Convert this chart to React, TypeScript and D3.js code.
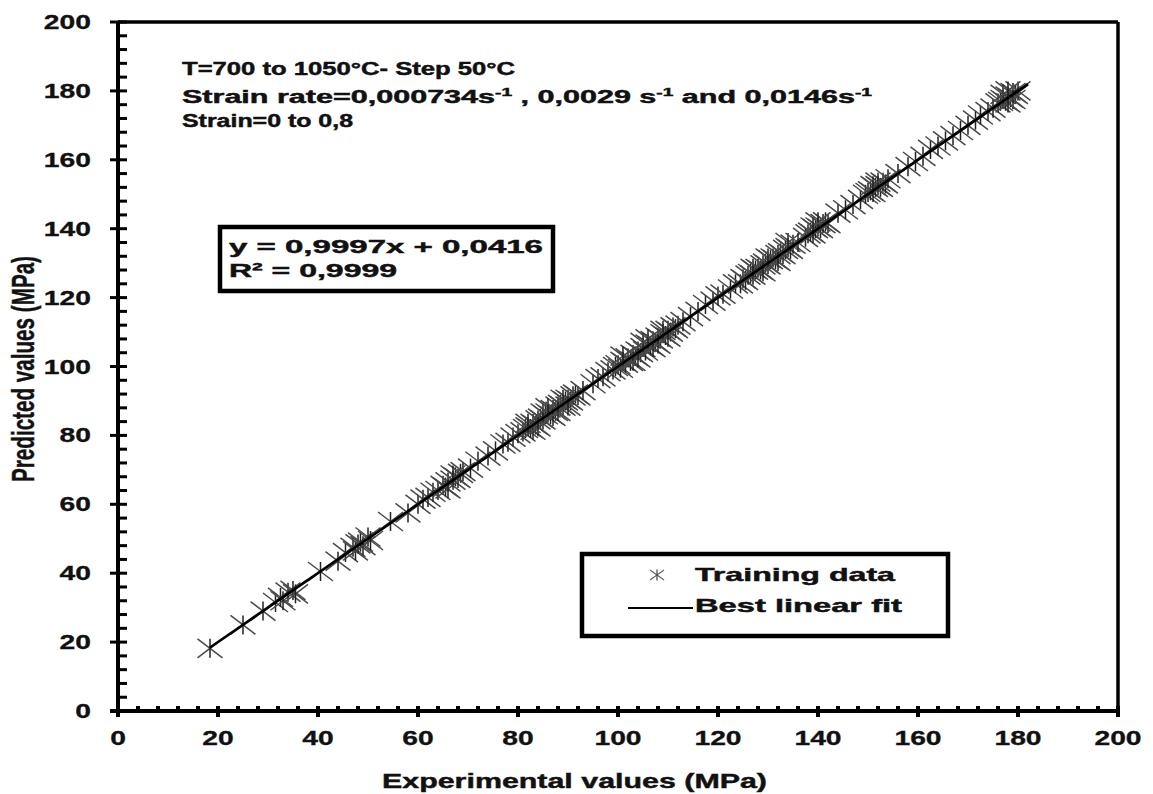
import React from "react";
import * as d3 from "d3";

// Training data: [experimental, predicted] (MPa)
const trainingData: [number, number][] = [
  [18.4, 18.2], [25, 25], [29, 29], [31.5, 31.5], [32.5, 33], [33, 32], [34, 34.5], [35, 35], [35.5, 34],
  [40.5, 40.5], [44, 43.5], [45.5, 46], [47, 47.5], [47.5, 46.5], [48, 48.5], [48.5, 49], [49, 48], [50, 50.5], [50.5, 49.5],
  [54.5, 55], [58, 57.5], [60, 60], [61, 61.5], [62, 62], [63, 63.5], [64, 64], [65, 65.5], [65.5, 65], [66, 66.5],
  [67, 67], [67.5, 68], [68, 67.5], [68.5, 69], [69, 69.5], [66, 64.5], [67, 68.5],
  [70.5, 70.5], [72, 72.5], [74, 74], [75.5, 75.5], [77, 77.5], [78, 78], [79, 79.5],
  [80, 80.5], [81, 81], [81.5, 82], [82, 82.5], [82.5, 82], [83, 83.5], [83.5, 83], [84, 84.5], [84.5, 85], [85, 84.5],
  [85.5, 86], [86, 86.5], [86.5, 86], [87, 87.5], [87.5, 87], [88, 88.5], [88.5, 89], [89, 88.5], [89.5, 90], [90, 90.5],
  [90.5, 90], [91, 91.5], [91.5, 92], [92, 91.5], [93, 93], [83, 81.5], [85, 86.5], [87, 85.5], [89, 90.5], [84, 82.5], [86, 88],
  [82, 83.5], [88, 87], [90, 88.5],
  [95, 95], [96, 96.5], [97, 97], [98, 98.5], [99, 99], [99.5, 100],
  [100, 100.5], [100.5, 99.5], [101, 101.5], [101.5, 101], [102, 102.5], [102.5, 101.5], [103, 103.5], [103.5, 103],
  [104, 104.5], [104.5, 104], [105, 105.5], [105.5, 104.5], [106, 106.5], [106.5, 106], [107, 107.5], [107.5, 107],
  [108, 108.5], [108.5, 108], [109, 109.5], [109.5, 109], [110, 110.5], [110.5, 110], [111, 111.5], [111.5, 111], [112, 112],
  [103, 101.5], [105, 107], [107, 105.5], [109, 110.5], [104, 102.5], [106, 108], [101, 103], [108, 106.5], [110, 108.5],
  [113, 113], [114.5, 114.5], [116, 116], [117.5, 118], [119, 119], [120, 120.5], [121, 121], [122.5, 122.5], [123.5, 124], [124.5, 124],
  [125, 125.5], [125.5, 125], [126, 126.5], [126.5, 127], [127, 126.5], [127.5, 128], [128, 128.5], [128.5, 128], [129, 129.5],
  [129.5, 130], [130, 129.5], [130.5, 131], [131, 131.5], [131.5, 131], [132, 132.5], [132.5, 133], [133, 132.5], [133.5, 134],
  [134, 134.5], [134.5, 134], [135, 135.5], [127, 128.5], [130, 131.5], [132, 130.5], [129, 127.5], [134, 136],
  [136, 136], [137.5, 137.5],
  [138, 138.5], [138.5, 139], [139, 138.5], [139.5, 140], [140, 140.5], [140.5, 140], [141, 141.5], [141.5, 142], [142, 141.5], [140, 142], [139, 140.5],
  [144, 144.5], [145.5, 145.5], [147, 147], [148.5, 148.5], [149.5, 150],
  [150, 150.5], [150.5, 151], [151, 150.5], [151.5, 152], [152, 152.5], [152.5, 152], [153, 153.5], [153.5, 153], [154, 154.5], [152, 153.5], [151, 152.5],
  [156, 156], [158, 158], [159.5, 159.5], [161, 161], [162.5, 163], [164, 164], [165.5, 165.5], [167, 167], [168.5, 168.5],
  [170, 170], [171.5, 171.5], [172.5, 173], [174, 174],
  [175, 175], [176, 176.5], [176.5, 177], [177, 177.5], [177.5, 177], [178, 178.5], [178.5, 178], [179, 179.5], [179.5, 179],
  [180, 180], [177, 179], [178, 180], [179, 177.5], [178, 176.5],
];

const fitSlope = 0.9997;
const fitIntercept = 0.0416;
const fitRange = [18.4, 182];

const majorTicks = [0, 20, 40, 60, 80, 100, 120, 140, 160, 180, 200];
const minorTicks = d3.range(0, 201, 4).filter((v) => v % 20 !== 0);

const FONT = "'Liberation Sans', Arial, sans-serif";
const SX = 1.45;
const TXT_STROKE = 0.45;

const x = d3.scaleLinear().domain([0, 200]).range([118, 1118]);
const y = d3.scaleLinear().domain([0, 200]).range([711, 22]);

function Star({ cx, cy, dx, dy, vy, sw, c1, c2 }: { cx: number; cy: number; dx: number; dy: number; vy: number; sw: number; c1: string; c2: string }) {
  return (
    <g>
      <line x1={cx - dx} y1={cy - dy} x2={cx + dx} y2={cy + dy} stroke={c1} strokeWidth={sw} />
      <line x1={cx - dx} y1={cy + dy} x2={cx + dx} y2={cy - dy} stroke={c1} strokeWidth={sw} />
      <line x1={cx} y1={cy - vy} x2={cx} y2={cy + vy} stroke={c2} strokeWidth={sw} />
    </g>
  );
}

export default function App() {
  const line = d3
    .line<number>()
    .x((d) => x(d))
    .y((d) => y(fitSlope * d + fitIntercept));

  const sup = (s: string) => (
    <tspan fontSize={11} dy={-7}>{s}</tspan>
  );

  return (
    <svg width={1153} height={794} style={{ position: "absolute", left: 0, top: 0, background: "#fff" }}>
      <rect x={0} y={0} width={1153} height={794} fill="#fff" />
      {/* markers */}
      {trainingData.map((d, i) => (
        <Star key={i} cx={x(d[0])} cy={y(d[1])} dx={12.5} dy={9.5} vy={9.5} sw={1.5} c1="#4a4a4a" c2="#222" />
      ))}
      {/* fit line */}
      <path d={line(fitRange) || ""} stroke="#000" strokeWidth={2.6} fill="none" />

      {/* frame */}
      <line x1={x(0)} y1={y(200)} x2={x(200)} y2={y(200)} stroke="#000" strokeWidth={3.5} />
      <line x1={x(200)} y1={y(200)} x2={x(200)} y2={y(0) + 6} stroke="#000" strokeWidth={3.5} />
      <line x1={x(0) - 8} y1={y(0)} x2={x(200)} y2={y(0)} stroke="#000" strokeWidth={4} />
      <line x1={x(0)} y1={y(200)} x2={x(0)} y2={y(0) + 6} stroke="#000" strokeWidth={4} />

      {/* y ticks */}
      {majorTicks.map((t) => (
        <line key={"ym" + t} x1={x(0) - 8} x2={x(0) + 9} y1={y(t)} y2={y(t)} stroke="#000" strokeWidth={3} />
      ))}
      {minorTicks.map((t) => (
        <line key={"yn" + t} x1={x(0)} x2={x(0) + 9} y1={y(t)} y2={y(t)} stroke="#000" strokeWidth={3} />
      ))}
      {/* x ticks */}
      {majorTicks.map((t) => (
        <line key={"xm" + t} x1={x(t)} x2={x(t)} y1={y(0) - 5} y2={y(0) + 6} stroke="#000" strokeWidth={4} />
      ))}
      {minorTicks.map((t) => (
        <line key={"xn" + t} x1={x(t)} x2={x(t)} y1={y(0) - 5} y2={y(0)} stroke="#000" strokeWidth={4} />
      ))}

      {/* tick labels */}
      <g fontFamily={FONT} fontWeight="bold" fontSize={19.5} fill="#111" stroke="#111" strokeWidth={0.3}>
        {majorTicks.map((t) => (
          <text key={"yl" + t} transform={`translate(91,${y(t) + 7}) scale(${SX},1)`} textAnchor="end">{t}</text>
        ))}
        {majorTicks.map((t) => (
          <text key={"xl" + t} transform={`translate(${x(t)},745) scale(${SX},1)`} textAnchor="middle">{t}</text>
        ))}
      </g>

      {/* axis titles */}
      <text x={382} y={788} textLength={385} lengthAdjust="spacingAndGlyphs" fontFamily={FONT} fontWeight="bold" fontSize={21}
        fill="#111" stroke="#111" strokeWidth={TXT_STROKE}>
        Experimental values (MPa)
      </text>
      <text transform={`translate(34,369) scale(${SX},1) rotate(-90)`} textAnchor="middle" fontFamily={FONT} fontWeight="bold"
        fontSize={21} textLength={226} lengthAdjust="spacingAndGlyphs" fill="#111" stroke="#111" strokeWidth={0.3}>
        Predicted values (MPa)
      </text>

      {/* annotation */}
      <g fontFamily={FONT} fontWeight="bold" fontSize={17.5} fill="#111" stroke="#111" strokeWidth={TXT_STROKE}>
        <text x={182} y={75} textLength={333} lengthAdjust="spacingAndGlyphs">T=700 to 1050°C- Step 50°C</text>
        <text x={182} y={103} textLength={690} lengthAdjust="spacingAndGlyphs">
          Strain rate=0,000734s{sup("-1")}<tspan dy={7}> , 0,0029 s</tspan>{sup("-1")}<tspan dy={7}> and 0,0146s</tspan>{sup("-1")}
        </text>
        <text x={182} y={127} textLength={171} lengthAdjust="spacingAndGlyphs">Strain=0 to 0,8</text>
      </g>

      {/* equation box */}
      <rect x={220} y={227} width={333} height={64} fill="#fff" stroke="#000" strokeWidth={4.5} />
      <g fontFamily={FONT} fontWeight="bold" fontSize={18.5} fill="#111" stroke="#111" strokeWidth={TXT_STROKE}>
        <text x={229} y={253} textLength={314} lengthAdjust="spacingAndGlyphs">y = 0,9997x + 0,0416</text>
        <text x={229} y={277} textLength={168} lengthAdjust="spacingAndGlyphs">R² = 0,9999</text>
      </g>

      {/* legend */}
      <rect x={582} y={554} width={366} height={82} fill="#fff" stroke="#000" strokeWidth={4.5} />
      <Star cx={657} cy={575} dx={7} dy={5} vy={5.5} sw={1.2} c1="#666" c2="#444" />
      <line x1={628} x2={693} y1={608} y2={608} stroke="#000" strokeWidth={2} />
      <g fontFamily={FONT} fontWeight="bold" fontSize={18.5} fill="#111" stroke="#111" strokeWidth={TXT_STROKE}>
        <text x={695} y={581} textLength={200} lengthAdjust="spacingAndGlyphs">Training data</text>
        <text x={695} y={612} textLength={207} lengthAdjust="spacingAndGlyphs">Best linear fit</text>
      </g>
    </svg>
  );
}
